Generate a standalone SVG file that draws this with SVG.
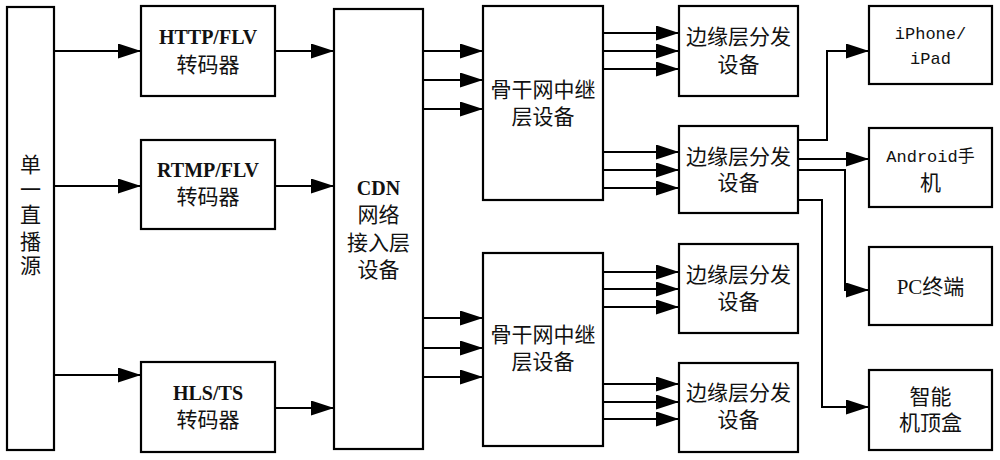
<svg xmlns="http://www.w3.org/2000/svg" width="1000" height="460" viewBox="0 0 1000 460">
<defs>
<marker id="ah" markerUnits="userSpaceOnUse" markerWidth="24" markerHeight="16" refX="23" refY="7.5" orient="auto">
<path d="M0,0 L23,7.5 L0,15 z" fill="#000"/>
</marker>
<style>
.box{fill:#fff;stroke:#000;stroke-width:2.2}
.ln{fill:none;stroke:#000;stroke-width:2;marker-end:url(#ah)}
.cn{font-family:"Liberation Serif","Noto Sans CJK SC",serif;font-size:21px;text-anchor:middle;fill:#111}
.lb{font-family:"Liberation Serif","Noto Sans CJK SC",serif;font-size:20px;font-weight:bold;text-anchor:middle;fill:#111}
.mo{font-family:"Liberation Mono","Noto Sans CJK SC",monospace;font-size:17px;text-anchor:middle;fill:#111}
</style>
</defs>
<rect width="1000" height="460" fill="#fff"/>
<g id="source"><rect class="box" x="7" y="7" width="47" height="443"/>
<text class="cn" x="30.5" y="172">单</text><text class="cn" x="30.5" y="197">一</text><text class="cn" x="30.5" y="222">直</text><text class="cn" x="30.5" y="249">播</text><text class="cn" x="30.5" y="273">源</text></g>
<g id="httpflv"><rect class="box" x="141" y="6" width="134" height="90"/><text class="lb" x="208" y="44">HTTP/FLV</text><text class="cn" x="208" y="72">转码器</text></g>
<g id="rtmpflv"><rect class="box" x="141" y="140" width="134" height="89"/><text class="lb" x="208" y="177">RTMP/FLV</text><text class="cn" x="208" y="204">转码器</text></g>
<g id="hlsts"><rect class="box" x="141" y="362" width="134" height="90"/><text class="lb" x="208" y="400">HLS/TS</text><text class="cn" x="208" y="427">转码器</text></g>
<g id="cdn"><rect class="box" x="334" y="9" width="89" height="440"/><text class="lb" x="378.5" y="195">CDN</text><text class="cn" x="378.5" y="222">网络</text><text class="cn" x="378.5" y="250">接入层</text><text class="cn" x="378.5" y="277">设备</text></g>
<g id="backbone1"><rect class="box" x="483" y="6" width="120" height="194"/><text class="cn" x="543" y="97">骨干网中继</text><text class="cn" x="543" y="124">层设备</text></g>
<g id="backbone2"><rect class="box" x="483" y="253" width="120" height="193"/><text class="cn" x="543" y="342">骨干网中继</text><text class="cn" x="543" y="369">层设备</text></g>
<g id="edge1"><rect class="box" x="679" y="6" width="119" height="90"/><text class="cn" x="738.5" y="44">边缘层分发</text><text class="cn" x="738.5" y="72">设备</text></g>
<g id="edge2"><rect class="box" x="679" y="126" width="119" height="87"/><text class="cn" x="738.5" y="164">边缘层分发</text><text class="cn" x="738.5" y="190">设备</text></g>
<g id="edge3"><rect class="box" x="679" y="244" width="119" height="89"/><text class="cn" x="738.5" y="282">边缘层分发</text><text class="cn" x="738.5" y="309">设备</text></g>
<g id="edge4"><rect class="box" x="679" y="363" width="119" height="89"/><text class="cn" x="738.5" y="400">边缘层分发</text><text class="cn" x="738.5" y="427">设备</text></g>
<g id="iphone"><rect class="box" x="869" y="6" width="123" height="78"/><text class="mo" x="930.5" y="39">iPhone/</text><text class="mo" x="930.5" y="64">iPad</text></g>
<g id="android"><rect class="box" x="869" y="128" width="123" height="79"/><text class="mo" x="930.5" y="162">Android手</text><text class="cn" x="930.5" y="190">机</text></g>
<g id="pc"><rect class="box" x="869" y="247" width="123" height="78"/><text class="cn" x="930.5" y="294">PC终端</text></g>
<g id="stb"><rect class="box" x="869" y="370" width="123" height="80"/><text class="cn" x="930.5" y="404">智能</text><text class="cn" x="930.5" y="430">机顶盒</text></g>
<g id="connectors">
<path class="ln" d="M54,51 H141"/>
<path class="ln" d="M54,186 H141"/>
<path class="ln" d="M54,375 H141"/>
<path class="ln" d="M275,51 H334"/>
<path class="ln" d="M275,186 H334"/>
<path class="ln" d="M275,408 H334"/>
<path class="ln" d="M423,51 H483"/>
<path class="ln" d="M423,80 H483"/>
<path class="ln" d="M423,109 H483"/>
<path class="ln" d="M423,318 H483"/>
<path class="ln" d="M423,348 H483"/>
<path class="ln" d="M423,377 H483"/>
<path class="ln" d="M603,33 H679"/>
<path class="ln" d="M603,51 H679"/>
<path class="ln" d="M603,69 H679"/>
<path class="ln" d="M603,152 H679"/>
<path class="ln" d="M603,170 H679"/>
<path class="ln" d="M603,188 H679"/>
<path class="ln" d="M603,272 H679"/>
<path class="ln" d="M603,289 H679"/>
<path class="ln" d="M603,307 H679"/>
<path class="ln" d="M603,384 H679"/>
<path class="ln" d="M603,402 H679"/>
<path class="ln" d="M603,419 H679"/>
<path class="ln" d="M798,140 H827 V51 H869"/>
<path class="ln" d="M798,159 H869"/>
<path class="ln" d="M798,170 H845 V290 H869"/>
<path class="ln" d="M798,200 H822 V407 H869"/>
</g>
</svg>
